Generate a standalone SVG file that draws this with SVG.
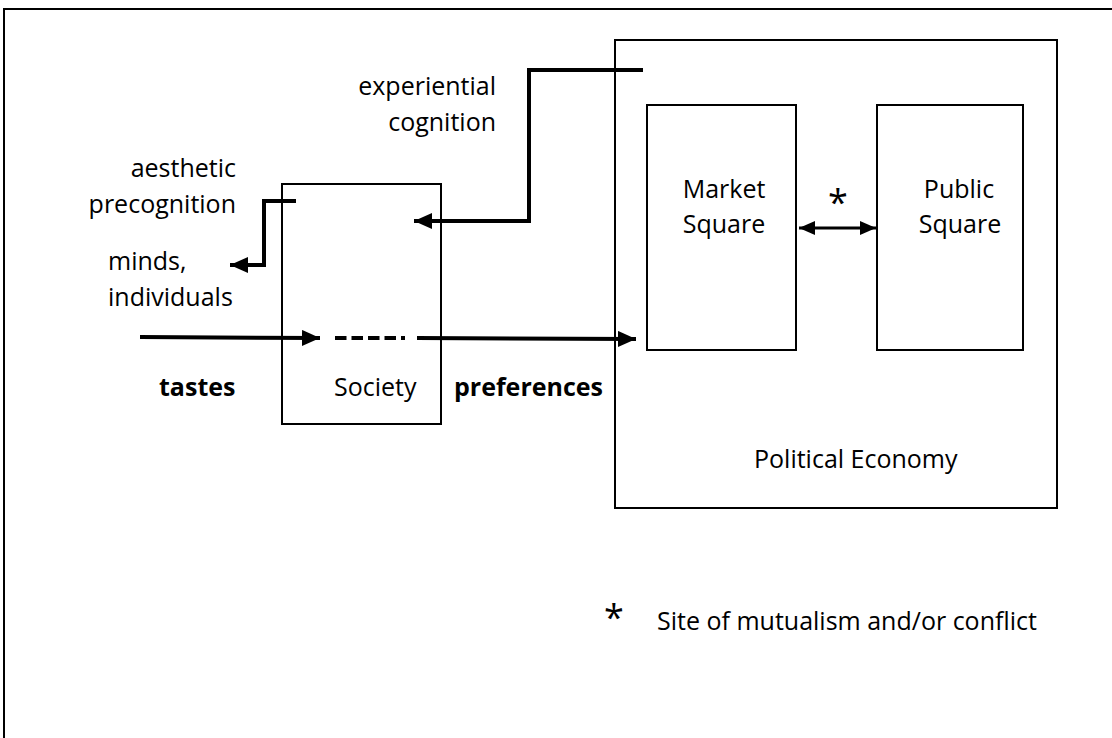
<svg xmlns="http://www.w3.org/2000/svg" width="1112" height="738" viewBox="0 0 1112 738">
<style>
.box{fill:none;stroke:#000;stroke-width:2}
.conn{fill:none;stroke:#000;stroke-width:4}
.t{font-family:"Open Sans","Liberation Sans",sans-serif;font-size:25px;fill:#000}
.b{font-weight:bold}
.m{text-anchor:middle}
.e{text-anchor:end}
.star{font-family:"Open Sans","Liberation Sans",sans-serif;font-size:36px;fill:#000;text-anchor:middle}
</style>
<defs>
<marker id="ah" markerUnits="userSpaceOnUse" markerWidth="20" markerHeight="16" refX="18" refY="8" orient="auto">
<path d="M0,0 L18,8 L0,16 Z" fill="#000"/>
</marker>
<marker id="ahs" markerUnits="userSpaceOnUse" markerWidth="18" markerHeight="14" refX="16" refY="7" orient="auto-start-reverse">
<path d="M0,0 L16,7 L0,14 Z" fill="#000"/>
</marker>
</defs>
<rect width="1112" height="738" fill="#fff"/>
<path d="M4,738 V9 H1112" class="box"/>

<g id="political-economy">
<rect x="615" y="40" width="442" height="468" class="box"/>
<text x="754" y="468" class="t">Political Economy</text>
</g>
<g id="market-square">
<rect x="647" y="105" width="149" height="245" class="box"/>
<text x="724" y="198" class="t m">Market</text>
<text x="724" y="233" class="t m">Square</text>
</g>
<g id="public-square">
<rect x="877" y="105" width="146" height="245" class="box"/>
<text x="959" y="198" class="t m">Public</text>
<text x="960" y="233" class="t m">Square</text>
</g>
<g id="society">
<rect x="282" y="184" width="159" height="240" class="box"/>
<text x="334" y="396" class="t">Society</text>
</g>

<g id="connectors">
<polyline points="643,70 529,70 529,221 414,221" class="conn" marker-end="url(#ah)"/>
<polyline points="296,201 264,201 264,265 230,265" class="conn" marker-end="url(#ah)"/>
<line x1="140" y1="337" x2="320" y2="338" class="conn" marker-end="url(#ah)"/>
<line x1="335" y1="338" x2="405" y2="338" class="conn" stroke-dasharray="11.5 5"/>
<line x1="417" y1="338" x2="636" y2="339" class="conn" marker-end="url(#ah)"/>
<line x1="799" y1="228" x2="876" y2="228" class="conn" stroke-width="3" style="stroke-width:3" marker-start="url(#ahs)" marker-end="url(#ahs)"/>
</g>

<g id="labels">
<text x="496" y="95" class="t e">experiential</text>
<text x="496" y="131" class="t e">cognition</text>
<text x="236" y="177" class="t e">aesthetic</text>
<text x="236" y="213" class="t e">precognition</text>
<text x="108" y="270" class="t">minds,</text>
<text x="108" y="306" class="t">individuals</text>
<text x="159" y="396" class="t b">tastes</text>
<text x="454" y="396" class="t b">preferences</text>
<text x="838" y="215" class="star">*</text>
</g>

<g id="legend">
<text x="614" y="630" class="star">*</text>
<text x="657" y="630" class="t">Site of mutualism and/or conflict</text>
</g>
</svg>
